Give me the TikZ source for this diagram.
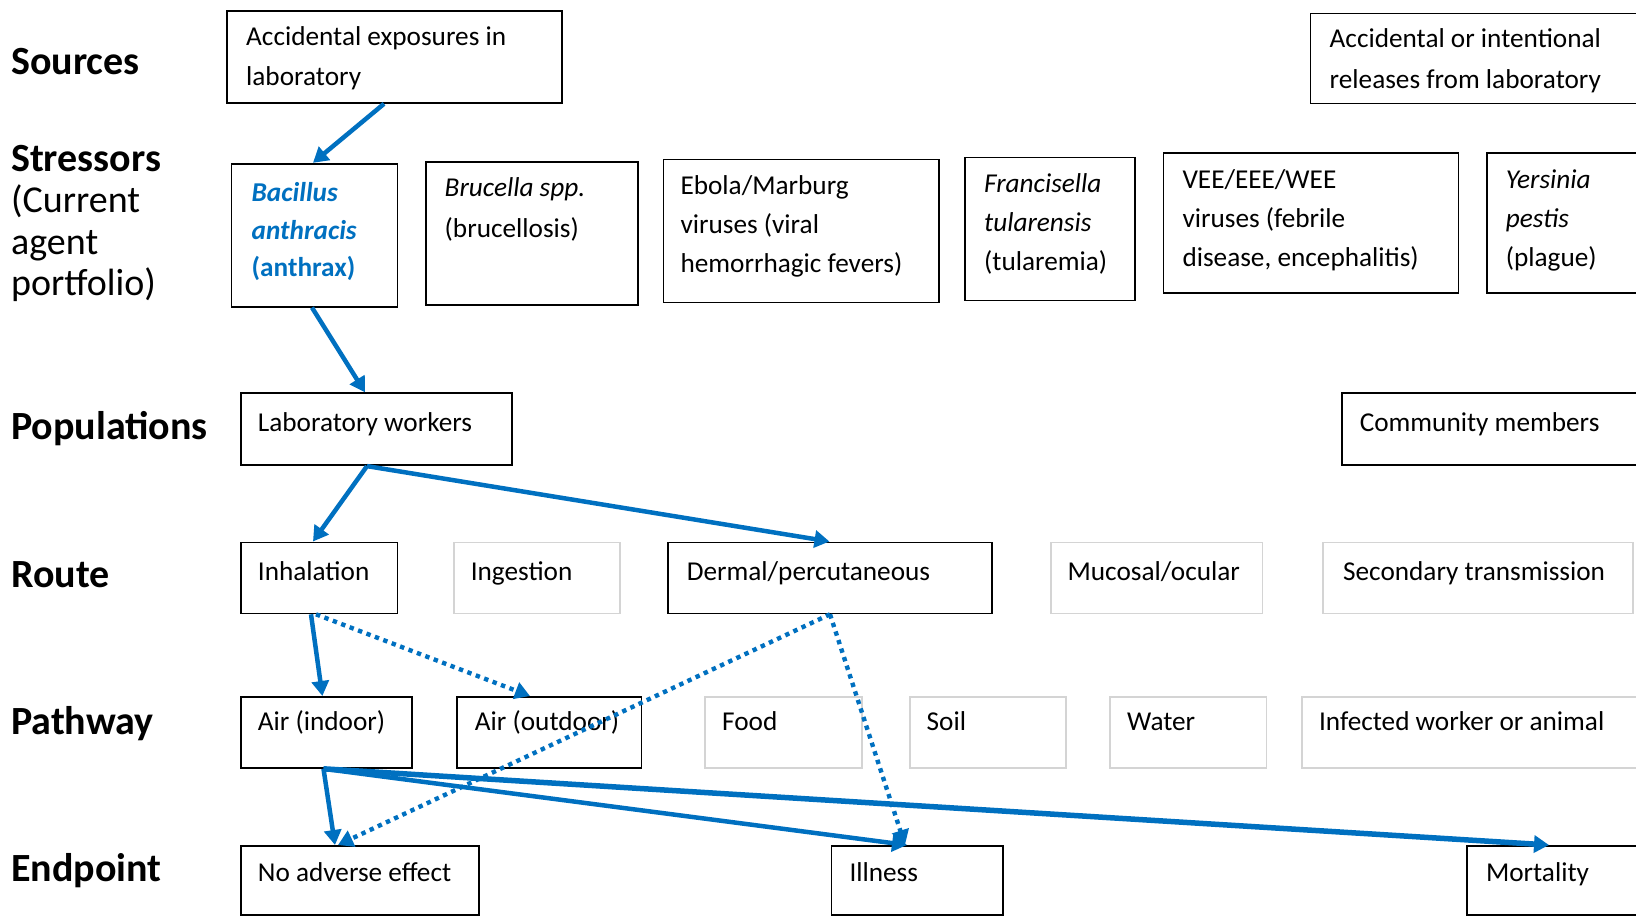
\documentclass[tikz,border=0pt]{standalone}
\usepackage{fontspec}
\setmainfont{Carlito}
\usetikzlibrary{arrows.meta,calc}
\definecolor{flowblue}{HTML}{0070C0}
\definecolor{faint}{HTML}{D4D4D4}
\begin{document}
\begin{tikzpicture}[x=1pt,y=-1pt,
  blk/.style={draw=black,line width=1.8pt,rectangle,inner sep=0pt,anchor=north west},
  gry/.style={draw=faint,line width=1.8pt,rectangle,inner sep=0pt,anchor=north west},
  % multi-line texts are placed by the baseline of their last line
  txt/.style={inner sep=0pt,anchor=base west,align=left,font=\fontsize{27.25}{39}\selectfont},
  lbl/.style={inner sep=0pt,anchor=base west,align=left,font=\bfseries\fontsize{40}{41.3}\selectfont},
  flow/.style={draw=flowblue,line width=4.5pt,-{Triangle[length=15pt,width=17pt]}},
  flowdot/.style={flow,line width=4.4pt,dash pattern=on 4.4pt off 4.6pt},
]
\useasboundingbox (0,0) rectangle (1636,916);
\clip (0,0) rectangle (1636,916);

% row headings
\node[lbl] (hsrc) at (11,74) {Sources};
\node[lbl,font=\fontsize{38}{41.3}\selectfont] (hstr) at (11,295.4)
  {{\fontsize{40}{41.3}\selectfont\bfseries Stressors}\\(Current\\agent\\portfolio)};
\node[lbl] (hpop) at (11,439) {Populations};
\node[lbl] (hrt) at (11,587) {Route};
\node[lbl] (hpw) at (11,734) {Pathway};
\node[lbl] (hend) at (11,881) {Endpoint};

% sources
\node[blk,minimum width=335pt,minimum height=92pt] (s1) at (226,10) {};
\node[blk,minimum width=360pt,minimum height=90pt] (s2) at (1309.5,12.5) {};
\node[txt,font=\fontsize{27.25}{40}\selectfont] (s1t) at (246,85) {Accidental exposures in\\laboratory};
\node[txt,font=\fontsize{27.25}{41}\selectfont] (s2t) at (1329.5,88) {Accidental or intentional\\releases from laboratory};

% stressors
\node[blk,minimum width=166pt,minimum height=143pt] (bac) at (230.6,162.8) {};
\node[blk,minimum width=212pt,minimum height=143pt] (bru) at (424.7,160.7) {};
\node[blk,minimum width=275.4pt,minimum height=143pt] (ebo) at (662.6,158.6) {};
\node[blk,minimum width=170pt,minimum height=143pt] (fra) at (964,156.5) {};
\node[blk,minimum width=295pt,minimum height=140pt] (vee) at (1162.5,152.3) {};
\node[blk,minimum width=200pt,minimum height=140pt] (yer) at (1485.8,152.3) {};
\node[txt,text=flowblue,font=\bfseries\fontsize{27.25}{37.6}\selectfont] (bact) at (251.5,276.7)
  {\textit{Bacillus}\\\textit{anthracis}\\(anthrax)};
\node[txt,font=\fontsize{27.25}{40.7}\selectfont] (brut) at (444.5,237) {\textit{Brucella spp.}\\(brucellosis)};
\node[txt] (ebot) at (680.3,272.2) {Ebola/Marburg\\viruses (viral\\hemorrhagic fevers)};
\node[txt] (frat) at (984,270.4) {\textit{Francisella}\\\textit{tularensis}\\(tularemia)};
\node[txt,font=\fontsize{27.25}{39.1}\selectfont] (veet) at (1182.3,266.2) {VEE/EEE/WEE\\viruses (febrile\\disease, encephalitis)};
\node[txt,font=\fontsize{27.25}{39.1}\selectfont] (yert) at (1505.6,266.2) {\textit{Yersinia}\\\textit{pestis}\\(plague)};

% populations
\node[blk,minimum width=271.3pt,minimum height=72pt] (lab) at (240,392.3) {};
\node[blk,minimum width=330pt,minimum height=72pt] (com) at (1340.8,392.3) {};
\node[txt] (labt) at (257.7,431) {Laboratory workers};
\node[txt] (comt) at (1359.6,431) {Community members};

% routes
\node[blk,minimum width=156.5pt,minimum height=71pt] (inh) at (240,541.5) {};
\node[gry,minimum width=166pt,minimum height=71pt] (ing) at (452.8,541.5) {};
\node[blk,minimum width=324.5pt,minimum height=71pt] (der) at (666.7,541.5) {};
\node[gry,minimum width=211.8pt,minimum height=71pt] (muc) at (1049.7,541.5) {};
\node[gry,minimum width=310pt,minimum height=71pt] (sec) at (1322,541.5) {};
\node[txt] (inht) at (257.7,580.3) {Inhalation};
\node[txt] (ingt) at (470.6,580.3) {Ingestion};
\node[txt] (dert) at (686.6,580.3) {Dermal/percutaneous};
\node[txt] (muct) at (1067.4,580.3) {Mucosal/ocular};
\node[txt] (sect) at (1342.9,580.3) {Secondary transmission};

% pathways
\node[blk,minimum width=171pt,minimum height=71pt] (ain) at (240,696) {};
\node[blk,minimum width=184.6pt,minimum height=71pt] (aout) at (456,696) {};
\node[gry,minimum width=156.5pt,minimum height=71pt] (food) at (704.3,696) {};
\node[gry,minimum width=156.5pt,minimum height=71pt] (soil) at (908.8,696) {};
\node[gry,minimum width=156.6pt,minimum height=71pt] (water) at (1109,696) {};
\node[gry,minimum width=370pt,minimum height=71pt] (inf) at (1301,696) {};
\node[txt] (aint) at (257.7,730.5) {Air (indoor)};
\node[txt] (aoutt) at (474.7,730.5) {Air (outdoor)};
\node[txt] (foodt) at (722,730.5) {Food};
\node[txt] (soilt) at (926.5,730.5) {Soil};
\node[txt] (watert) at (1127,730.5) {Water};
\node[txt] (inft) at (1318.9,730.5) {Infected worker or animal};

% endpoints
\node[blk,minimum width=238pt,minimum height=69pt] (noad) at (240,845) {};
\node[blk,minimum width=171.2pt,minimum height=69pt] (ill) at (830.5,845) {};
\node[blk,minimum width=200pt,minimum height=69pt] (mort) at (1466,845) {};
\node[txt] (noadt) at (257.7,881.8) {No adverse effect};
\node[txt] (illt) at (849.3,881.8) {Illness};
\node[txt] (mortt) at (1485.8,881.8) {Mortality};

% connectors
\draw[flow] ($(s1.south west)+(158,0)$) -- ($(bac.north west)+(82.4,0)$);
\draw[flow] ($(bac.south west)+(81.4,0)$) -- ($(lab.north west)+(125,0)$);
\draw[flow] ($(lab.south west)+(127,0)$) -- ($(inh.north west)+(73,0)$);
\draw[flow] ($(lab.south west)+(127,0)$) -- ($(der.north west)+(162.8,0)$);
\draw[flow] ($(inh.south west)+(71,0)$) -- ($(ain.north west)+(82.4,0)$);
\draw[flowdot] ($(inh.south west)+(76,0)$) -- ($(aout.north west)+(74,0)$);
\draw[flowdot] ($(der.south west)+(163.3,0)$) -- ($(noad.north west)+(98,0)$);
\draw[flowdot] ($(der.south west)+(163.3,0)$) -- ($(ill.north west)+(74.5,0)$);
\draw[flow] ($(ain.south west)+(83.5,0)$) -- ($(noad.north west)+(95,0)$);
\draw[flow] ($(ain.south west)+(83.5,0)$) -- ($(ill.north west)+(76.5,0)$);
\draw[flow,line width=5.5pt] ($(ain.south west)+(83.5,0)$) -- ($(mort.north west)+(83,0)$);
\end{tikzpicture}
\end{document}
